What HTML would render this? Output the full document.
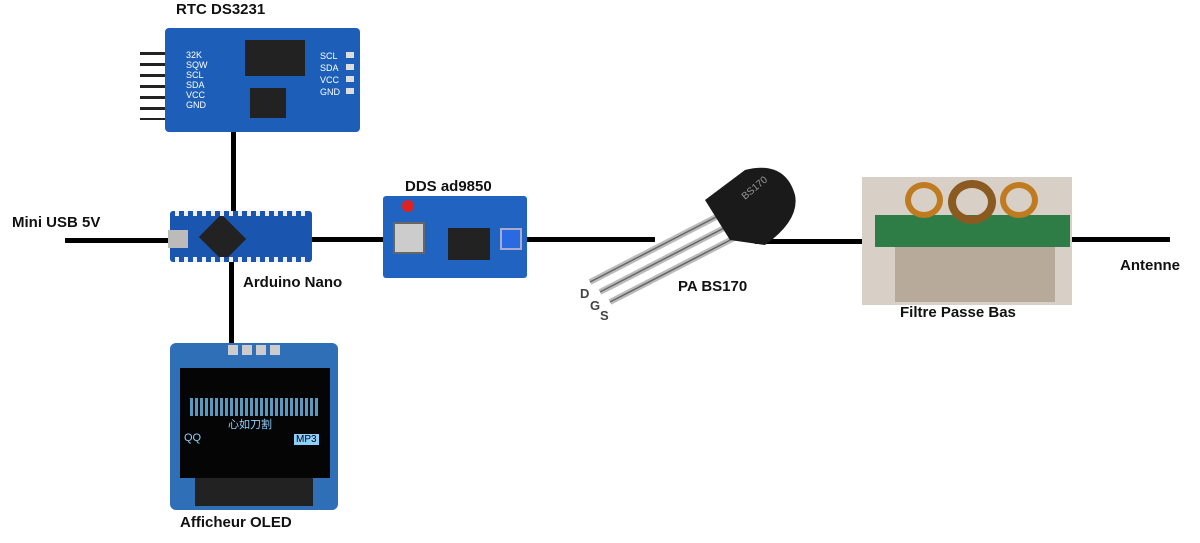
<!DOCTYPE html>
<html><head><meta charset="utf-8"><style>
body{margin:0;width:1200px;height:543px;background:#fff;position:relative;overflow:hidden;font-family:"Liberation Sans","Noto Sans CJK SC",sans-serif}
.a{position:absolute}
.lbl{position:absolute;font-weight:bold;font-size:15px;color:#111;white-space:nowrap}
.ln{position:absolute;background:#000}
</style></head><body>
<!-- lines -->
<div class="ln" style="left:65px;top:238px;width:110px;height:5px"></div>
<div class="ln" style="left:310px;top:237px;width:80px;height:5px"></div>
<div class="ln" style="left:525px;top:237px;width:130px;height:5px"></div>
<div class="ln" style="left:755px;top:239px;width:112px;height:5px"></div>
<div class="ln" style="left:1070px;top:237px;width:100px;height:5px"></div>
<div class="ln" style="left:231px;top:130px;width:5px;height:82px"></div>
<div class="ln" style="left:229px;top:258px;width:5px;height:90px"></div>

<!-- RTC -->
<div class="a" style="left:140px;top:52px;width:28px;height:68px;background:repeating-linear-gradient(#222 0 3px,#fff 3px 11px)"></div>
<div class="a" style="left:165px;top:28px;width:195px;height:104px;background:#1d5fb8;border-radius:4px"></div>
<div class="a" style="left:245px;top:40px;width:60px;height:36px;background:#222"></div>
<div class="a" style="left:250px;top:88px;width:36px;height:30px;background:#222"></div>
<div class="a" style="left:186px;top:50px;width:14px;height:62px;color:#fff;font-size:9px;line-height:10px">32K SQW SCL SDA VCC GND</div>
<div class="a" style="left:320px;top:50px;width:30px;height:52px;color:#fff;font-size:9px;line-height:12px">SCL SDA VCC GND</div>
<div class="a" style="left:346px;top:52px;width:8px;height:48px;background:repeating-linear-gradient(#ddd 0 6px,#1d5fb8 6px 12px)"></div>

<!-- Nano -->
<div class="a" style="left:170px;top:211px;width:142px;height:51px;background:#1a56b0;border-radius:3px"></div>
<div class="a" style="left:205px;top:222px;width:35px;height:32px;background:#222;transform:rotate(45deg)"></div>
<div class="a" style="left:168px;top:230px;width:20px;height:18px;background:#bbb"></div>
<div class="a" style="left:175px;top:211px;width:135px;height:5px;background:repeating-linear-gradient(90deg,#eee 0 4px,#1a56b0 4px 9px)"></div>
<div class="a" style="left:175px;top:257px;width:135px;height:5px;background:repeating-linear-gradient(90deg,#eee 0 4px,#1a56b0 4px 9px)"></div>

<!-- DDS -->
<div class="a" style="left:383px;top:196px;width:144px;height:82px;background:#2063c0;border-radius:3px"></div>
<div class="a" style="left:393px;top:222px;width:28px;height:28px;background:#ccc;border:2px solid #666"></div>
<div class="a" style="left:448px;top:228px;width:42px;height:32px;background:#222"></div>
<div class="a" style="left:402px;top:200px;width:12px;height:12px;background:#d22;border-radius:50%"></div>
<div class="a" style="left:500px;top:228px;width:18px;height:18px;background:#2a6ae0;border:2px solid #aac"></div>

<!-- transistor -->
<svg class="a" style="left:580px;top:160px" width="230" height="160">
<g stroke="#bbb" stroke-width="6"><line x1="140" y1="55" x2="10" y2="122"/><line x1="150" y1="65" x2="20" y2="132"/><line x1="160" y1="75" x2="30" y2="142"/></g>
<g stroke="#666" stroke-width="1.5" fill="none"><line x1="140" y1="55" x2="10" y2="122"/><line x1="150" y1="65" x2="20" y2="132"/><line x1="160" y1="75" x2="30" y2="142"/></g>
<path d="M125 40 L165 10 Q205 0 215 35 Q220 60 185 85 L150 80 Z" fill="#1a1a1a"/>
<text x="165" y="40" fill="#999" font-size="10" transform="rotate(-40 165 40)">BS170</text>
<text x="0" y="138" font-size="13" font-weight="bold" fill="#444">D</text>
<text x="10" y="150" font-size="13" font-weight="bold" fill="#444">G</text>
<text x="20" y="160" font-size="13" font-weight="bold" fill="#444">S</text>
</svg>

<!-- filter -->
<div class="a" style="left:862px;top:177px;width:210px;height:128px;background:#d8cfc6"></div>
<div class="a" style="left:875px;top:215px;width:195px;height:32px;background:#2f7d46"></div>
<div class="a" style="left:895px;top:247px;width:160px;height:55px;background:#b8aa9a"></div>
<div class="a" style="left:905px;top:182px;width:38px;height:36px;border:6px solid #c07a20;border-radius:50%;box-sizing:border-box"></div>
<div class="a" style="left:948px;top:180px;width:48px;height:44px;border:8px solid #8a5a20;border-radius:50%;box-sizing:border-box"></div>
<div class="a" style="left:1000px;top:182px;width:38px;height:36px;border:6px solid #c07a20;border-radius:50%;box-sizing:border-box"></div>

<!-- OLED -->
<div class="a" style="left:170px;top:343px;width:168px;height:167px;background:#2f6fb8;border-radius:6px"></div>
<div class="a" style="left:180px;top:368px;width:150px;height:110px;background:#050505"></div>
<div class="a" style="left:195px;top:478px;width:118px;height:28px;background:#222"></div>
<div class="a" style="left:228px;top:345px;width:56px;height:10px;background:repeating-linear-gradient(90deg,#ccc 0 10px,#2f6fb8 10px 14px)"></div>
<div class="a" style="left:190px;top:398px;width:130px;height:18px;background:repeating-linear-gradient(90deg,#6cc0f0 0 3px,transparent 3px 5px);opacity:.8"></div>
<div class="a" style="left:184px;top:432px;color:#8cd0ff;font-size:11px">QQ</div>
<div class="a" style="left:228px;top:416px;color:#8cd0ff;font-size:11px">心如刀割</div>
<div class="a" style="left:294px;top:434px;color:#000;background:#8cd0ff;font-size:10px;padding:0 2px">MP3</div>

<!-- labels -->
<div class="lbl" style="left:176px;top:1px">RTC DS3231</div>
<div class="lbl" style="left:12px;top:214px">Mini USB 5V</div>
<div class="lbl" style="left:405px;top:178px">DDS ad9850</div>
<div class="lbl" style="left:243px;top:274px">Arduino Nano</div>
<div class="lbl" style="left:678px;top:278px">PA BS170</div>
<div class="lbl" style="left:900px;top:304px">Filtre Passe Bas</div>
<div class="lbl" style="left:1120px;top:257px">Antenne</div>
<div class="lbl" style="left:180px;top:514px">Afficheur OLED</div>
</body></html>
